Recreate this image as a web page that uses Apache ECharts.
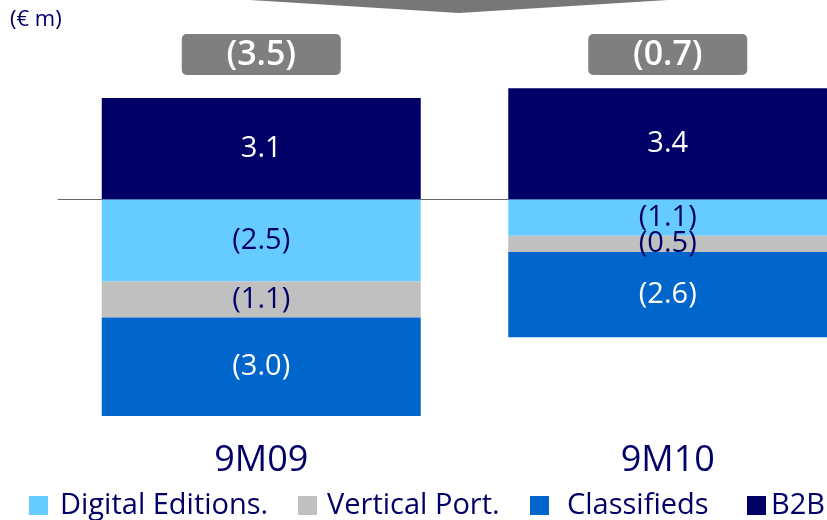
<!DOCTYPE html>
<html>
<head>
<meta charset="utf-8">
<script src="https://cdn.jsdelivr.net/npm/echarts@6/dist/echarts.min.js"></script>
<style>
  html, body { margin: 0; padding: 0; background: #fff; }
  #chart { width: 827px; height: 520px; }
</style>
</head>
<body>
<div id="chart"></div>
<script>
// Periods and segment results (€ m); negatives are losses
const periods = ['9M09', '9M10'];
const b2b = [3.1, 3.4];
const digitalEditions = [-2.5, -1.1];
const verticalPortals = [-1.1, -0.5];
const classifieds = [-3.0, -2.6];
const totals = [-3.5, -0.7];

const NAVY = '#000066';
const FONT = '"Open Sans", "Noto Sans", sans-serif';

// Accounting style: negatives shown in brackets
function fmt(v) {
  const s = Math.abs(v).toFixed(1);
  return v < 0 ? '(' + s + ')' : s;
}

function barSeries(name, data, color, labelColor) {
  return {
    name: name,
    type: 'bar',
    stack: 'total',
    data: data,
    barWidth: 319,
    itemStyle: { color: color },
    label: {
      show: true,
      position: 'inside',
      color: labelColor,
      fontFamily: FONT,
      fontSize: 29,
      formatter: p => fmt(p.value)
    }
  };
}

function legendItem(name, left, color, gap) {
  return {
    data: [{ name: name, icon: 'rect', itemStyle: { color: color } }],
    left: left,
    top: 491,
    padding: 0,
    itemWidth: 19,
    itemHeight: 19,
    selectedMode: false,
    textStyle: {
      color: NAVY,
      fontFamily: FONT,
      fontSize: 29,
      padding: [0, 0, 0, gap]
    }
  };
}

const chart = echarts.init(document.getElementById('chart'));

chart.setOption({
  animation: false,
  // the second category runs past the right edge of the canvas
  grid: { left: 58, width: 813, top: 3, height: 426, outerBoundsMode: 'none', containLabel: false },
  xAxis: [
    {
      type: 'category',
      data: periods,
      axisLine: { show: false, onZero: false },
      axisTick: { show: false },
      axisLabel: {
        color: NAVY,
        fontFamily: FONT,
        fontSize: 36,
        margin: 14
      }
    },
    {
      // zero baseline drawn behind the bars
      type: 'category',
      data: periods,
      position: 'bottom',
      axisLine: { show: true, onZero: true, lineStyle: { color: '#666', width: 1 } },
      axisTick: { show: false },
      axisLabel: { show: false }
    }
  ],
  yAxis: {
    type: 'value',
    min: -7,
    max: 6,
    show: false,
    splitLine: { show: false }
  },
  legend: [
    legendItem('Digital Editions.', 29, '#66CCFF', 7),
    legendItem('Vertical Port.', 298, '#C0C0C0', 5),
    legendItem('Classifieds', 530, '#0066CC', 13),
    legendItem('B2B', 747, NAVY, 0)
  ],
  graphic: [
    {
      type: 'polygon',
      shape: { points: [[250, 0], [459, 13], [668, 0]] },
      style: { fill: '#777' }
    },
    {
      type: 'text',
      left: 10,
      top: 9,
      style: { text: '(€ m)', fill: NAVY, font: '22px ' + FONT }
    }
  ],
  series: [
    barSeries('B2B', b2b, NAVY, '#fff'),
    barSeries('Digital Editions.', digitalEditions, '#66CCFF', NAVY),
    barSeries('Vertical Port.', verticalPortals, '#C0C0C0', NAVY),
    barSeries('Classifieds', classifieds, '#0066CC', '#fff'),
    {
      // period total shown in a grey badge above each bar
      name: 'Total',
      type: 'custom',
      data: totals.map((v, i) => [i, v]),
      encode: { x: 0, y: 1 },
      renderItem: function (params, api) {
        const x = api.coord([api.value(0), 0])[0];
        return {
          type: 'group',
          children: [
            {
              type: 'rect',
              shape: { x: x - 79.5, y: 34, width: 159, height: 41, r: 5 },
              style: { fill: '#7F7F7F' }
            },
            {
              type: 'text',
              style: {
                text: fmt(api.value(1)),
                x: x,
                y: 55,
                align: 'center',
                verticalAlign: 'middle',
                fill: '#fff',
                font: '600 34px ' + FONT
              }
            }
          ]
        };
      }
    }
  ]
});
</script>
</body>
</html>
